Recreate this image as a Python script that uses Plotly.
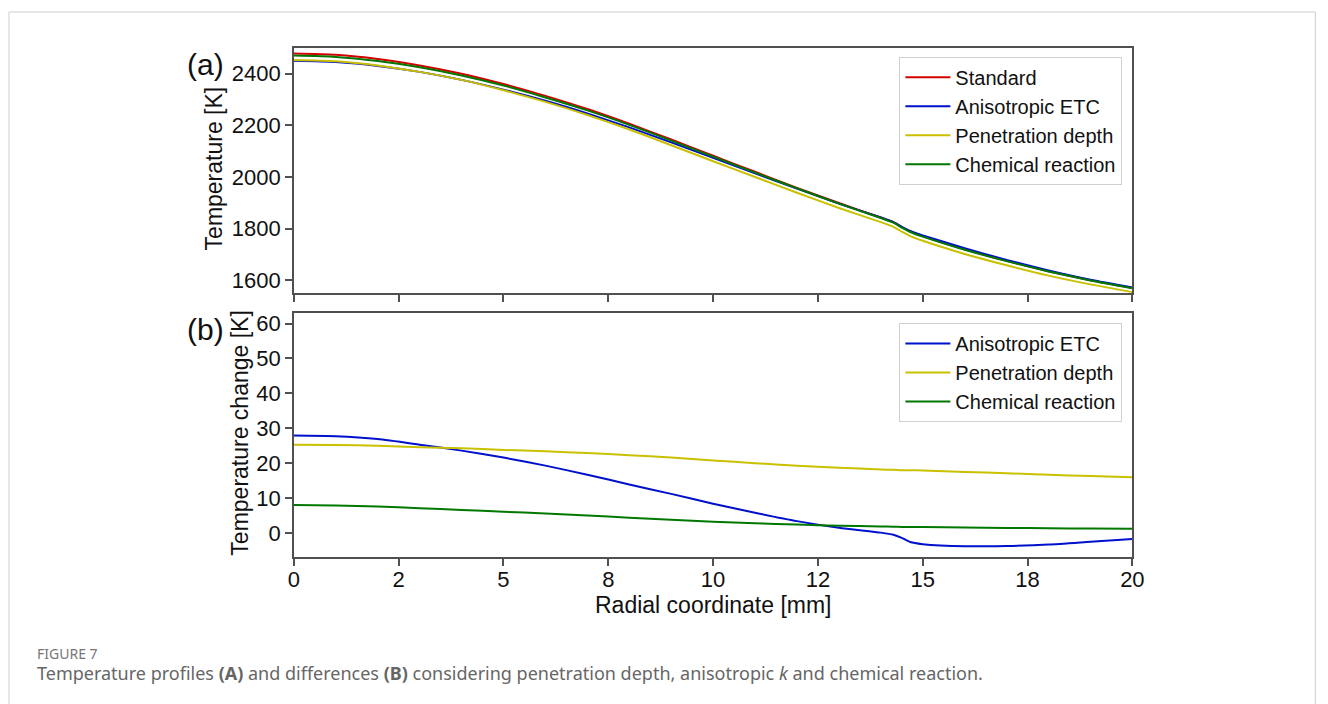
import plotly.graph_objects as go

# ---------------- data ----------------
radial_mm = [0, 1, 2, 3, 4, 5, 6, 7, 8, 9, 10, 11, 12, 13, 14, 14.3, 14.5, 14.7, 15, 16, 17, 18, 19, 20]

temp_standard = [2478, 2473, 2457, 2432, 2400, 2360, 2314, 2263, 2206, 2145, 2082, 2020, 1958, 1899,
                 1843, 1825, 1806, 1789, 1771, 1720, 1675, 1635, 1600, 1570]
temp_anisotropic = [2450, 2445, 2430, 2407, 2376, 2338, 2295, 2246, 2192, 2134, 2074, 2014, 1955, 1897,
                    1843, 1825, 1807, 1791, 1774, 1724, 1679, 1638, 1602, 1572]
temp_penetration = [2453, 2448, 2432, 2407, 2376, 2336, 2291, 2240, 2184, 2123, 2061, 2000, 1939, 1880,
                    1825, 1807, 1788, 1771, 1753, 1702, 1658, 1618, 1584, 1554]
temp_chemical = [2470, 2465, 2449, 2425, 2393, 2354, 2308, 2258, 2202, 2141, 2079, 2017, 1956, 1897,
                 1841, 1823, 1804, 1787, 1769, 1718, 1674, 1634, 1599, 1569]

dT_anisotropic = [27.9, 27.7, 26.9, 25.3, 23.6, 21.6, 19.3, 16.7, 13.9, 11.2, 8.4, 5.8, 3.4, 1.5,
                  0.1, -0.5, -1.4, -2.6, -3.2, -3.8, -3.7, -3.3, -2.5, -1.7]
dT_penetration = [25.3, 25.2, 25.0, 24.6, 24.3, 23.8, 23.4, 22.9, 22.3, 21.6, 20.8, 20.0, 19.3, 18.7,
                  18.2, 18.1, 18.0, 18.0, 17.9, 17.5, 17.1, 16.7, 16.3, 16.0]
dT_chemical = [8.0, 7.9, 7.6, 7.1, 6.6, 6.1, 5.6, 5.0, 4.4, 3.8, 3.2, 2.8, 2.4, 2.1,
               1.85, 1.8, 1.75, 1.72, 1.7, 1.55, 1.45, 1.35, 1.25, 1.2]

x_tickvals = [0, 2.5, 5, 7.5, 10, 12.5, 15, 17.5, 20]
x_ticktext = ["0", "2", "5", "8", "10", "12", "15", "18", "20"]
y1_tickvals = [1600, 1800, 2000, 2200, 2400]
y2_tickvals = [0, 10, 20, 30, 40, 50, 60]

# ---------------- style ----------------
C_RED = "#d40000"
C_BLUE = "#0010cc"
C_YEL = "#c9c000"
C_GRN = "#007800"
AX = "#505050"
FONT = "Liberation Sans, Arial, sans-serif"
W, H = 1328, 704
SX, OX = 0.987, 5.0   # observed horizontal page scale / offset of the capture

def px_x(p):
    return min(1.0, max(0.0, ((p - OX) / SX) / W))

def px_y(p):
    return 1 - p / H

fig = go.Figure()

top = [("Standard", temp_standard, C_RED),
       ("Anisotropic ETC", temp_anisotropic, C_BLUE),
       ("Penetration depth", temp_penetration, C_YEL),
       ("Chemical reaction", temp_chemical, C_GRN)]
for name, ys, col in top:
    fig.add_trace(go.Scatter(x=radial_mm, y=ys, name=name, mode="lines",
                             line=dict(color=col, width=2, shape="spline", smoothing=0.6),
                             xaxis="x", yaxis="y", legend="legend"))

bot = [("Anisotropic ETC", dT_anisotropic, C_BLUE),
       ("Penetration depth", dT_penetration, C_YEL),
       ("Chemical reaction", dT_chemical, C_GRN)]
for name, ys, col in bot:
    fig.add_trace(go.Scatter(x=radial_mm, y=ys, name=name, mode="lines",
                             line=dict(color=col, width=2, shape="spline", smoothing=0.6),
                             xaxis="x2", yaxis="y2", legend="legend2"))

x0, x1 = px_x(293), px_x(1132)
axis_common = dict(showgrid=False, zeroline=False, showline=True, linecolor=AX, linewidth=1.5,
                   mirror=True, ticks="outside", ticklen=7, tickwidth=1.5, tickcolor=AX,
                   tickfont=dict(family=FONT, size=22, color="#111"))

legend_common = dict(xanchor="right", yanchor="top", bgcolor="white", bordercolor="#d0d0d0",
                     borderwidth=1, font=dict(family=FONT, size=20, color="#111"), itemwidth=45)

fig.update_layout(
    width=W, height=H,
    margin=dict(l=0, r=0, t=0, b=0),
    paper_bgcolor="white", plot_bgcolor="white",
    xaxis=dict(domain=[x0, x1], range=[0, 20], anchor="y", tickvals=x_tickvals,
               showticklabels=False, **axis_common),
    yaxis=dict(domain=[px_y(292), px_y(46)], range=[1550, 2500], anchor="x",
               tickvals=y1_tickvals, **axis_common),
    xaxis2=dict(domain=[x0, x1], range=[0, 20], anchor="y2", tickvals=x_tickvals,
                ticktext=x_ticktext, ticklabelstandoff=-6, **axis_common),
    yaxis2=dict(domain=[px_y(557), px_y(312)], range=[-7, 63], anchor="x2",
                tickvals=y2_tickvals, **axis_common),
    legend=dict(x=px_x(1122), y=px_y(55), **legend_common),
    legend2=dict(x=px_x(1122), y=px_y(322), **legend_common),
    showlegend=True,
)

ann = [
    dict(text="(a)", x=px_x(184), y=px_y(63), xanchor="left", yanchor="middle",
         font=dict(family=FONT, size=30, color="#111")),
    dict(text="(b)", x=px_x(184), y=px_y(328), xanchor="left", yanchor="middle",
         font=dict(family=FONT, size=30, color="#111")),
    dict(text="Temperature [K]", x=px_x(213), y=px_y(167), textangle=-90,
         xanchor="center", yanchor="middle", font=dict(family=FONT, size=23, color="#111")),
    dict(text="Temperature change [K]", x=px_x(239), y=px_y(432), textangle=-90,
         xanchor="center", yanchor="middle", font=dict(family=FONT, size=23, color="#111")),
    dict(text="Radial coordinate [mm]", x=px_x(713), y=px_y(605),
         xanchor="center", yanchor="middle", font=dict(family=FONT, size=23, color="#111")),
    dict(text="FIGURE 7", x=px_x(34), y=px_y(653), xanchor="left", yanchor="middle",
         font=dict(family="Noto Sans, sans-serif", size=14, color="#777")),
    dict(text="Temperature profiles <b>(A)</b> and differences <b>(B)</b> considering penetration depth, "
              "anisotropic <i>k</i> and chemical reaction.",
         x=px_x(34), y=px_y(673), xanchor="left", yanchor="middle",
         font=dict(family="Noto Sans, sans-serif", size=18, color="#666")),
]
for a in ann:
    a.update(xref="paper", yref="paper", showarrow=False)
fig.update_layout(annotations=ann)

fig.add_shape(type="rect", xref="paper", yref="paper",
              x0=px_x(8), x1=0.9995, y0=px_y(720), y1=px_y(10),
              line=dict(color="#cfcfcf", width=1), fillcolor="rgba(0,0,0,0)", layer="below")

fig.write_html("out.html")
